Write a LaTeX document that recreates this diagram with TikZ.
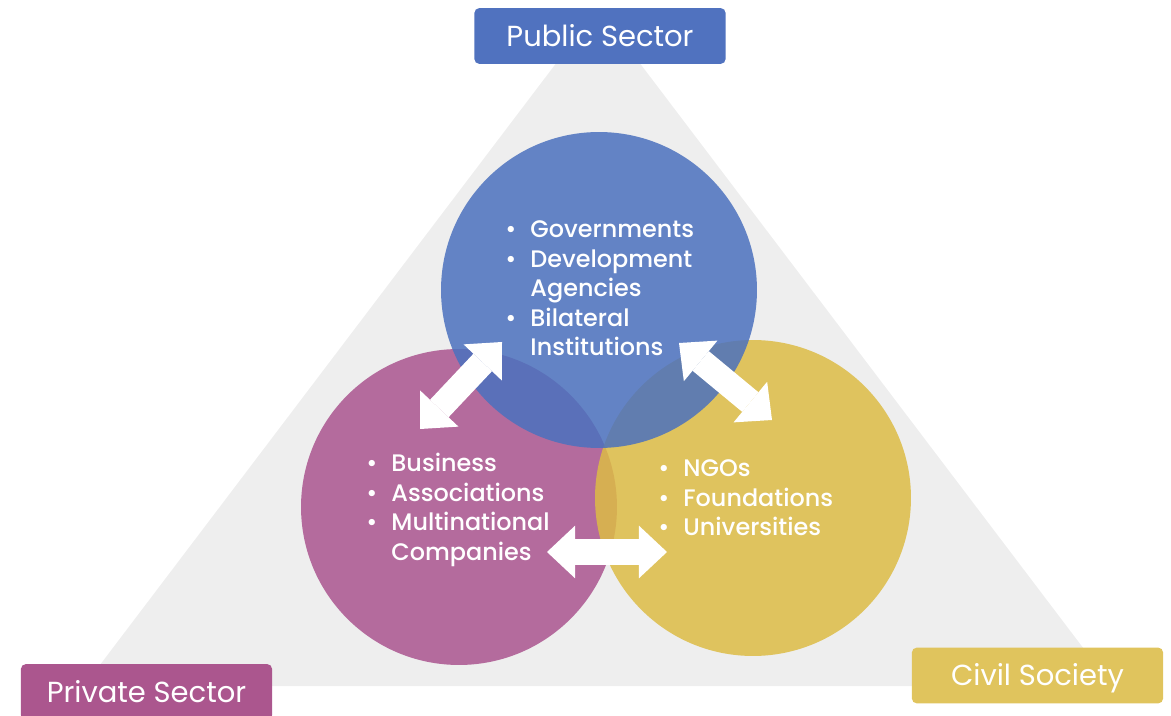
\documentclass[tikz,border=0pt]{standalone}
\usepackage{fontspec}
\setmainfont{Poppins}
\newfontfamily\popmed{Poppins Medium}
\usetikzlibrary{arrows.meta}
\definecolor{pubblue}{HTML}{4B71BE}
\definecolor{privmag}{HTML}{AB558F}
\definecolor{civyel}{HTML}{DDBC45}
\definecolor{pubbox}{HTML}{5072BF}
\definecolor{privbox}{HTML}{AB568E}
\definecolor{civbox}{HTML}{E0C45D}
\definecolor{trigray}{HTML}{EEEEEE}
\tikzset{
  sectorbox/.style={rounded corners=3pt,text=white,minimum width=5.03cm,minimum height=1.12cm,inner sep=0pt,text height=11.5pt,text depth=0pt,font=\fontsize{16.5}{20}\selectfont},
  sectorring/.style={circle,fill opacity=.85,minimum size=6.32cm,inner sep=0pt},
  bulletlist/.style={anchor=base west,text=white,inner sep=0pt,font=\popmed\fontsize{13.6}{16.7}\selectfont},
  linkarr/.style={white,line width=14.5pt,{Triangle[length=16pt,width=30pt,line width=0pt]}-{Triangle[length=16pt,width=30pt,line width=0pt]}}
}
\newcommand{\bl}{\textbullet}

\begin{document}
\begin{tikzpicture}[x=0.02cm,y=-0.02cm]
  \useasboundingbox (0,0) rectangle (1171,716);
  % background triangle
  \fill[trigray] (598,8) -- (84,686) -- (1112,686) -- cycle;

  % the three sectors
  \node[sectorring,fill=privmag] (priv) at (459,507) {};
  \node[sectorring,fill=civyel] (civ) at (753,498) {};
  \node[sectorring,fill=pubblue] (pub) at (599,290) {};

  \node[sectorbox,fill=pubbox] (publab) at (600,36) {Public Sector};
  \node[sectorbox,fill=privbox] (privlab) at (146.5,692) {Private Sector};
  \node[sectorbox,fill=civbox] (civlab) at (1037.5,675.5) {Civil Society};

  % links
  \coordinate (pp1) at (420,429);
  \coordinate (pp2) at (502,342);
  \coordinate (pc1) at (679,343);
  \coordinate (pc2) at (772,420);
  \coordinate (vc1) at (547,552);
  \coordinate (vc2) at (667,552);
  \draw[linkarr] (pp1) -- (pp2);
  \draw[linkarr] (pc1) -- (pc2);
  \draw[linkarr] (vc1) -- (vc2);

  \node[bulletlist] (publist) at (505,238) {\begin{tabular}[t]{@{}l@{\hspace{8pt}}l@{}}
    \bl & Governments\\
    \bl & Development\\
        & Agencies\\
    \bl & Bilateral\\
        & Institutions
  \end{tabular}};
  \node[bulletlist] (privlist) at (366,472) {\begin{tabular}[t]{@{}l@{\hspace{8pt}}l@{}}
    \bl & Business\\
    \bl & Associations\\
    \bl & Multinational\\
        & Companies
  \end{tabular}};
  \node[bulletlist] (civlist) at (658,477) {\begin{tabular}[t]{@{}l@{\hspace{8pt}}l@{}}
    \bl & NGOs\\
    \bl & Foundations\\
    \bl & Universities
  \end{tabular}};
\end{tikzpicture}
\end{document}
